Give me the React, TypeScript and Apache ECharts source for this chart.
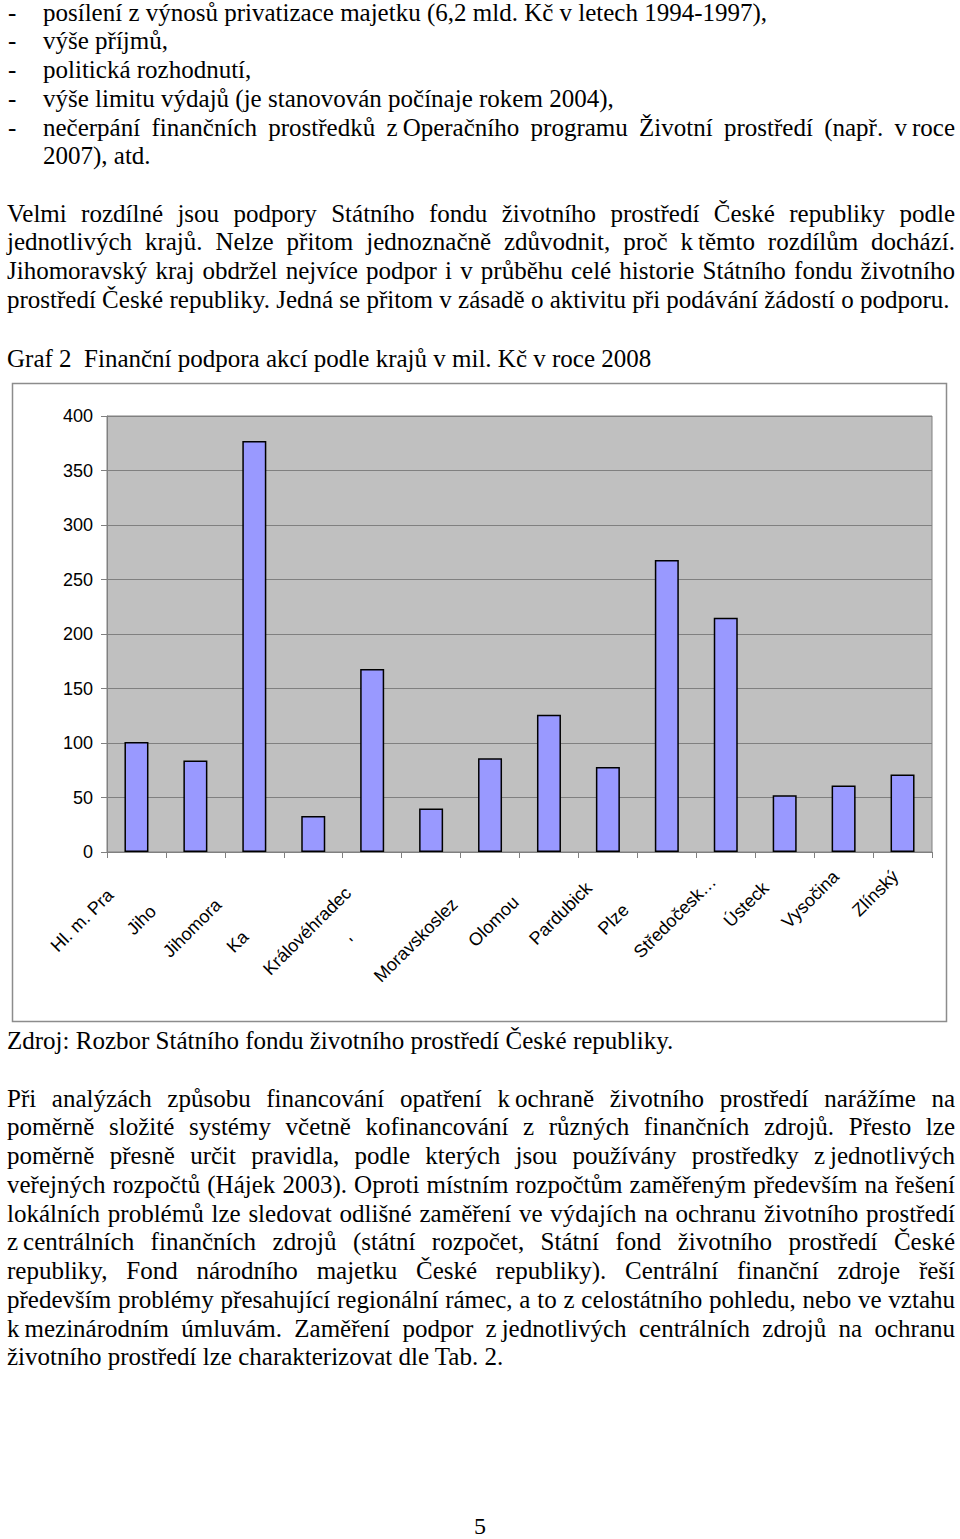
import React, { useEffect, useRef } from "react";
import * as echarts from "echarts";

// ---- data ----
const regions = [
  "Hl. m. Praha", "Jihočeský", "Jihomoravský", "Karlovarský", "Královéhradecký", "Liberecký",
  "Moravskoslezský", "Olomoucký", "Pardubický", "Plzeňský", "Středočeský", "Ústecký", "Vysočina", "Zlínský",
];
const tickLabels = [
  "Hl. m. Pra", "Jiho", "Jihomora", "Ka", "Královéhradec", "'",
  "Moravskoslez", "Olomou", "Pardubick", "Plze", "Středočesk…", "Ústeck", "Vysočina", "Zlínský",
];
const support = [101, 84, 377, 33, 168, 40, 86, 126, 78, 268, 215, 52, 61, 71];
const yTicks = { min: 0, max: 400, interval: 50 };

// ---- layout (not data) ----
const labelPads = [37, 60, 51, 96, 34, 107, 50, 47, 27, 58, 18, 27, 11, 10];

const SERIF = "'Liberation Serif', 'Times New Roman', Times, serif";
const SANS = "'Liberation Sans', Arial, Helvetica, sans-serif";
const NB = "\u202F";

type LineProps = { x: number; w?: number; base: number; text: string; justify?: boolean };
function Line({ x, w, base, text, justify }: LineProps) {
  return (
    <div
      style={{
        position: "absolute",
        left: x,
        top: base - 19.4,
        width: w,
        fontFamily: SERIF,
        fontSize: 25,
        lineHeight: "22px",
        height: 22,
        color: "#000",
        textAlign: justify ? "justify" : "left",
        textAlignLast: justify ? "justify" : "auto",
        whiteSpace: justify ? "normal" : "pre",
      } as React.CSSProperties}
    >
      {text}
    </div>
  );
}

const bullets = [
  "posílení z výnosů privatizace majetku (6,2 mld. Kč v letech 1994-1997),",
  "výše příjmů,",
  "politická rozhodnutí,",
  "výše limitu výdajů (je stanovován počínaje rokem 2004),",
];

const para2 = [
  "Velmi rozdílné jsou podpory Státního fondu životního prostředí České republiky podle",
  `jednotlivých krajů. Nelze přitom jednoznačně zdůvodnit, proč k${NB}těmto rozdílům dochází.`,
  "Jihomoravský kraj obdržel nejvíce podpor i v průběhu celé historie Státního fondu životního",
  "prostředí České republiky. Jedná se přitom v zásadě o aktivitu při podávání žádostí o podporu.",
];

const para3 = [
  `Při analýzách způsobu financování opatření k${NB}ochraně životního prostředí narážíme na`,
  "poměrně složité systémy včetně kofinancování z různých finančních zdrojů. Přesto lze",
  `poměrně přesně určit pravidla, podle kterých jsou používány prostředky z${NB}jednotlivých`,
  "veřejných rozpočtů (Hájek 2003). Oproti místním rozpočtům zaměřeným především na řešení",
  "lokálních problémů lze sledovat odlišné zaměření ve výdajích na ochranu životního prostředí",
  `z${NB}centrálních finančních zdrojů (státní rozpočet, Státní fond životního prostředí České`,
  "republiky, Fond národního majetku České republiky). Centrální finanční zdroje řeší",
  "především problémy přesahující regionální rámec, a to z celostátního pohledu, nebo ve vztahu",
  `k${NB}mezinárodním úmluvám. Zaměření podpor z${NB}jednotlivých centrálních zdrojů na ochranu`,
];

function Chart() {
  const ref = useRef<HTMLDivElement>(null);
  useEffect(() => {
    if (!ref.current) return;
    const chart = echarts.init(ref.current, undefined, { renderer: "svg" });
    chart.setOption({
      animation: false,
      graphic: [
        {
          type: "rect",
          shape: { x: 12.5, y: 8.5, width: 934, height: 638 },
          style: { fill: "none", stroke: "#8c8c8c", lineWidth: 1.5 },
          silent: true,
        },
      ],
      grid: {
        left: 107,
        top: 41,
        right: 28,
        bottom: 178,
        show: true,
        backgroundColor: "#C0C0C0",
        borderColor: "#808080",
        borderWidth: 1,
      },
      xAxis: {
        type: "category",
        data: regions.map((r, i) => ({ value: r, textStyle: { padding: [0, labelPads[i], 0, 0] } })),
        boundaryGap: true,
        axisLine: { show: true, lineStyle: { color: "#808080", width: 1 } },
        axisTick: { show: true, length: 6, alignWithLabel: false, lineStyle: { color: "#808080" } },
        axisLabel: {
          interval: 0,
          rotate: 45,
          margin: 14,
          fontFamily: SANS,
          fontSize: 18,
          color: "#000",
          formatter: (_v: string, i: number) => tickLabels[i],
        },
        splitLine: { show: false },
      },
      yAxis: {
        type: "value",
        min: yTicks.min,
        max: yTicks.max,
        interval: yTicks.interval,
        axisLine: { show: true, lineStyle: { color: "#808080", width: 1 } },
        axisTick: { show: true, length: 6, lineStyle: { color: "#808080" } },
        axisLabel: { fontFamily: SANS, fontSize: 18, color: "#000", margin: 14 },
        splitLine: { show: true, lineStyle: { color: "#808080", width: 1 } },
      },
      series: [
        {
          type: "bar",
          data: support,
          barWidth: 24,
          itemStyle: { color: "#9999FF", borderColor: "#000", borderWidth: 1.5 },
        },
      ],
    });
    return () => chart.dispose();
  }, []);
  return <div ref={ref} style={{ position: "absolute", left: 0, top: 375, width: 960, height: 655 }} />;
}

export default function App() {
  return (
    <div style={{ position: "absolute", left: 0, top: 0, width: 960, height: 1539, background: "#fff", overflow: "hidden" }}>
      {bullets.map((t, i) => (
        <React.Fragment key={"b" + i}>
          <Line x={8} base={21 + i * 28.75} text="-" />
          <Line x={43} base={21 + i * 28.75} text={t} />
        </React.Fragment>
      ))}
      <Line x={8} base={21 + 4 * 28.75} text="-" />
      <Line
        x={43}
        w={912}
        base={21 + 4 * 28.75}
        text={`nečerpání finančních prostředků z${NB}Operačního programu Životní prostředí (např. v${NB}roce`}
        justify
      />
      <Line x={43} base={21 + 5 * 28.75} text="2007), atd." />

      {para2.map((t, i) => (
        <Line key={"p2" + i} x={7} w={948} base={222 + i * 28.75} text={t} justify={i < 3} />
      ))}

      <Line x={7} base={367} text="Graf 2  Finanční podpora akcí podle krajů v mil. Kč v roce 2008" />

      <Chart />

      <Line x={7} base={1049} text="Zdroj: Rozbor Státního fondu životního prostředí České republiky." />

      {para3.map((t, i) => (
        <Line key={"p3" + i} x={7} w={948} base={1107 + i * 28.75} text={t} justify />
      ))}
      <Line x={7} base={1107 + 9 * 28.75} text="životního prostředí lze charakterizovat dle Tab. 2." />

      <div style={{ position: "absolute", left: 0, width: 960, top: 1516, height: 20, textAlign: "center", fontFamily: SERIF, fontSize: 24, lineHeight: "20px" }}>
        5
      </div>
    </div>
  );
}
